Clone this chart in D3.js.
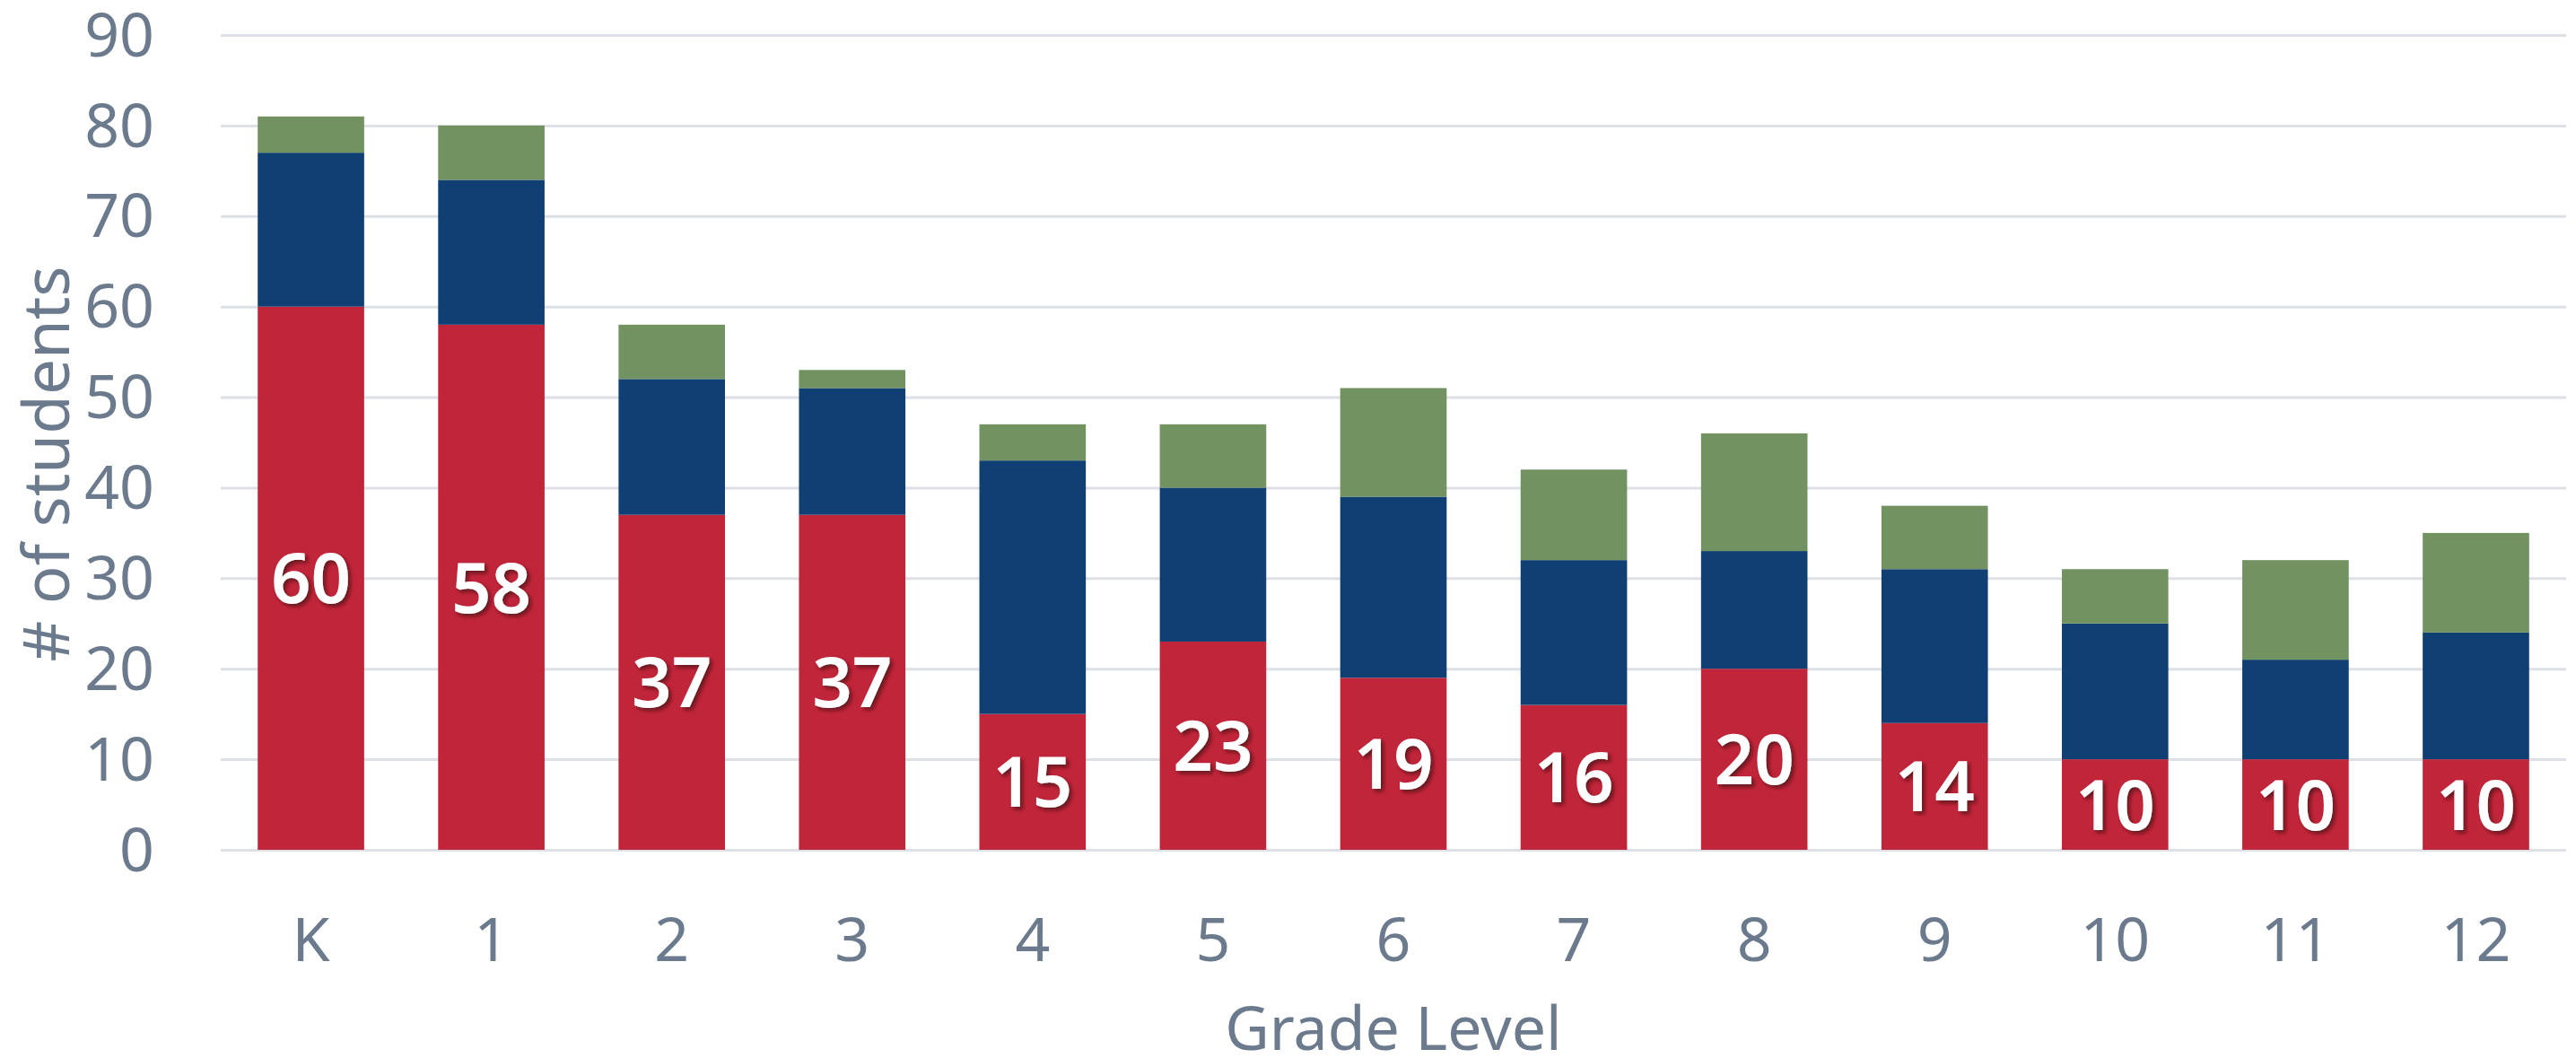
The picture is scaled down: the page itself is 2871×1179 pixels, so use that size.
<!DOCTYPE html>
<html>
<head>
<meta charset="utf-8">
<script src="https://cdn.jsdelivr.net/npm/d3@7"></script>
<style>
	html, body { margin: 0; padding: 0; background: #fff; }
	svg { display: block; font-family: 'Noto Sans', sans-serif; }
	.tick text { fill: #6b7a8c; }
</style>
</head>
<body>
<div id="chart"></div>
<script>
// grade levels along the x axis
const grades = ['K', '1', '2', '3', '4', '5', '6', '7', '8', '9', '10', '11', '12']
// stacked segments, bottom to top
const redValues = [60, 58, 37, 37, 15, 23, 19, 16, 20, 14, 10, 10, 10]
const blueValues = [17, 16, 15, 14, 28, 17, 20, 16, 13, 17, 15, 11, 14]
const greenValues = [4, 6, 6, 2, 4, 7, 12, 10, 13, 7, 6, 11, 11]
const yTicks = [0, 10, 20, 30, 40, 50, 60, 70, 80, 90]

const seriesKeys = ['red', 'blue', 'green']
const colors = { red: '#c1253a', blue: '#0f3f73', green: '#729262' }

const width = 2871
const height = 1179
const margin = { top: 39, right: 11, bottom: 232, left: 246 }

const rows = grades.map((g, i) => ({
	grade: g,
	red: redValues[i],
	blue: blueValues[i],
	green: greenValues[i],
}))

const stack = d3.stack().keys(seriesKeys)(rows)

const x = d3.scaleBand()
	.domain(grades)
	.range([margin.left, width - margin.right])
	.paddingInner(0.41)
	.paddingOuter(0.205)

const y = d3.scaleLinear()
	.domain([0, 90])
	.range([height - margin.bottom, margin.top])

const svg = d3.select('#chart')
	.append('svg')
	.attr('width', width)
	.attr('height', height)

// drop shadow for the value labels
const filter = svg.append('defs')
	.append('filter')
	.attr('id', 'shadow')
	.attr('x', '-20%')
	.attr('y', '-20%')
	.attr('width', '150%')
	.attr('height', '150%')
filter.append('feDropShadow')
	.attr('dx', 3)
	.attr('dy', 3)
	.attr('stdDeviation', 2)
	.attr('flood-color', '#3a0a10')
	.attr('flood-opacity', 0.7)

// gridlines
svg.append('g')
	.attr('transform', `translate(${margin.left},0)`)
	.call(d3.axisLeft(y)
		.tickValues(yTicks)
		.tickSize(-(width - margin.left - margin.right))
		.tickFormat(''))
	.call(g => g.select('.domain').remove())
	.call(g => g.selectAll('.tick line')
		.attr('stroke', '#dde0e6')
		.attr('stroke-width', 3))

// y tick labels
svg.append('g')
	.attr('transform', `translate(${margin.left},0)`)
	.call(d3.axisLeft(y)
		.tickValues(yTicks)
		.tickSize(0)
		.tickPadding(74))
	.call(g => g.select('.domain').remove())
	.call(g => g.selectAll('.tick text')
		.attr('font-size', 68)
		.attr('font-family', 'Noto Sans')
		.attr('dy', '0.34em'))

// stacked bars
svg.append('g')
	.selectAll('g')
	.data(stack)
	.join('g')
	.attr('fill', d => colors[d.key])
	.selectAll('rect')
	.data(d => d)
	.join('rect')
	.attr('x', d => x(d.data.grade))
	.attr('y', d => y(d[1]))
	.attr('width', x.bandwidth())
	.attr('height', d => y(d[0]) - y(d[1]))

// red segment value labels
svg.append('g')
	.selectAll('text')
	.data(stack[0])
	.join('text')
	.attr('x', d => x(d.data.grade) + x.bandwidth() / 2)
	.attr('y', d => y((d[0] + d[1]) / 2))
	.attr('dy', '0.36em')
	.attr('text-anchor', 'middle')
	.attr('font-size', 78)
	.attr('font-weight', 600)
	.attr('fill', '#fff')
	.attr('filter', 'url(#shadow)')
	.text(d => d.data.red)

// x tick labels
svg.append('g')
	.attr('transform', `translate(0,${height - margin.bottom})`)
	.call(d3.axisBottom(x).tickSize(0).tickPadding(76))
	.call(g => g.select('.domain').remove())
	.call(g => g.selectAll('.tick text')
		.attr('font-size', 68)
		.attr('font-family', 'Noto Sans'))

// axis titles
svg.append('text')
	.attr('x', (margin.left + width - margin.right) / 2)
	.attr('y', 1170)
	.attr('text-anchor', 'middle')
	.attr('font-size', 68)
	.attr('fill', '#6b7a8c')
	.text('Grade Level')

svg.append('text')
	.attr('transform', `translate(77,${517}) rotate(-90)`)
	.attr('text-anchor', 'middle')
	.attr('font-size', 71)
	.attr('fill', '#6b7a8c')
	.text('# of students')
</script>
</body>
</html>
